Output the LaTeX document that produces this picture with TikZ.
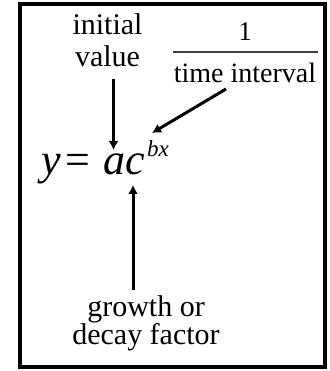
\documentclass[tikz,border=0pt]{standalone}
\usepackage{fontspec}
\setmainfont{Liberation Serif}
\usetikzlibrary{arrows.meta}
\tikzset{
  lbl/.style={inner sep=0pt, align=center, font=\fontsize{30}{32}\selectfont},
  arr/.style={line width=3pt, -{Latex[length=9pt,width=10pt]}},
  frame/.style={line width=4pt}
}
\begin{document}
\begin{tikzpicture}[x=1pt,y=1pt]
\useasboundingbox (0,0) rectangle (329,371);
\draw[frame] (19.5,4) rectangle (324.5,367);
% labels
\node[lbl, anchor=base] (iv) at (107.5,304) {initial\\value};
\node[lbl, anchor=base, font=\fontsize{27}{27}\selectfont] (one) at (245,330) {1};
\coordinate (barL) at (173,319);
\coordinate (barR) at (318,319);
\draw[line width=1.2pt, black!75] (barL) -- (barR);
\node[lbl, anchor=base, font=\fontsize{28}{28}\selectfont] (ti) at (245,288) {time interval};
\node[lbl, anchor=base west, font=\fontsize{44}{44}\selectfont] (eq) at (41,196)
  {\itshape y\hspace{5pt}\upshape=\hspace{13pt}\itshape ac\hspace{2pt}\raisebox{18pt}{\fontsize{23}{23}\selectfont bx}};
\node[lbl, anchor=base, font=\fontsize{30}{27}\selectfont] (gf) at (146,26) {growth or\\decay factor};
% arrow end points
\coordinate (ivS) at (113.5,292);
\coordinate (ivT) at (113.5,221);
\coordinate (tiS) at (226,282);
\coordinate (tiT) at (152,238);
\coordinate (gfS) at (133,81);
\coordinate (gfT) at (133,186);
\draw[arr] (ivS) -- (ivT);
\draw[arr] (tiS) -- (tiT);
\draw[arr] (gfS) -- (gfT);
\end{tikzpicture}
\end{document}
